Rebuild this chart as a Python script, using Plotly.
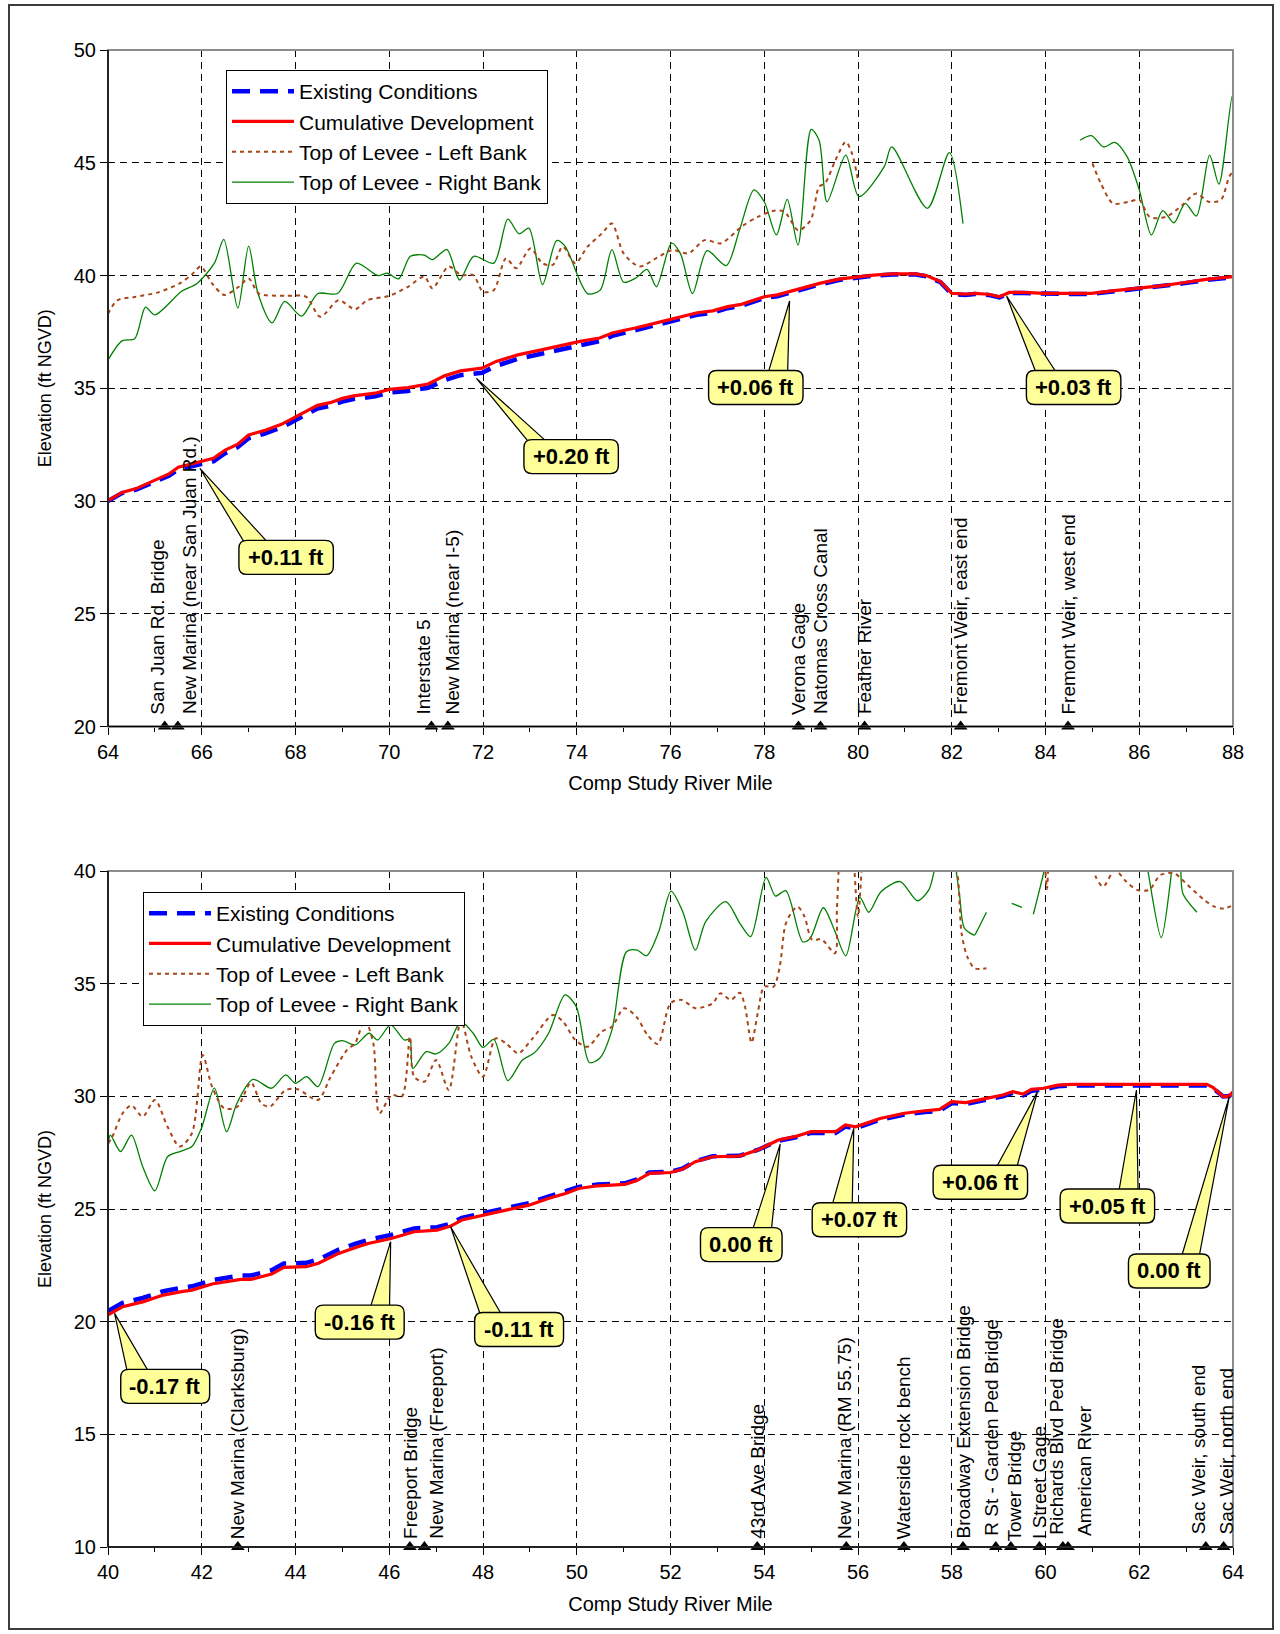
import plotly.graph_objects as go

# ---------------------------------------------------------------- data: top chart (RM 64-88)
TOP_PROFILE_X = [64.0, 64.3, 64.6, 65.0, 65.3, 65.5, 65.8, 66.25, 66.5, 66.76, 67.0, 67.33, 67.7, 68.0,
                 68.25, 68.47, 68.74, 69.0, 69.24, 69.7, 70.0, 70.4, 70.83, 71.18, 71.52, 71.98, 72.28,
                 72.74, 73.27, 73.65, 74.07, 74.49, 74.76, 75.02, 75.25, 75.96, 76.57, 76.9, 77.22, 77.51,
                 78.0, 78.28, 78.77, 79.18, 79.59, 80.0, 80.33, 80.74, 81.23, 81.47, 81.76, 82.0, 82.29,
                 82.49, 82.78, 83.02, 83.23, 83.51, 84.0, 84.49, 84.98, 85.47, 85.96, 86.45, 86.94, 87.43, 88.0]
TOP_CUMULATIVE = [30.02, 30.38, 30.55, 30.9, 31.2, 31.5, 31.67, 31.89, 32.26, 32.51, 32.93, 33.12, 33.4, 33.74,
                  34.0, 34.24, 34.36, 34.55, 34.66, 34.78, 34.95, 35.03, 35.19, 35.55, 35.77, 35.89, 36.19,
                  36.48, 36.71, 36.88, 37.08, 37.23, 37.45, 37.57, 37.67, 38.03, 38.35, 38.43, 38.62, 38.72,
                  39.06, 39.14, 39.43, 39.65, 39.84, 39.95, 40.02, 40.07, 40.07, 39.99, 39.73, 39.21, 39.17,
                  39.21, 39.17, 39.06, 39.25, 39.25, 39.21, 39.21, 39.21, 39.33, 39.43, 39.54, 39.68, 39.83, 39.95]
TOP_EXISTING = [30.0, 30.35, 30.5, 30.85, 31.12, 31.4, 31.56, 31.76, 32.12, 32.38, 32.78, 32.98, 33.26, 33.6,
                33.86, 34.1, 34.22, 34.41, 34.52, 34.64, 34.81, 34.88, 35.02, 35.36, 35.58, 35.69, 35.99,
                36.3, 36.54, 36.72, 36.93, 37.09, 37.32, 37.45, 37.56, 37.93, 38.26, 38.35, 38.55, 38.65,
                39.0, 39.08, 39.37, 39.6, 39.8, 39.92, 39.99, 40.04, 40.04, 39.96, 39.7, 39.18, 39.14,
                39.18, 39.14, 39.03, 39.22, 39.22, 39.18, 39.18, 39.18, 39.3, 39.4, 39.51, 39.65, 39.8, 39.92]

TOP_RIGHT_X = [64.0, 64.3, 64.57, 64.8, 65.0, 65.57, 65.9, 66.27, 66.47, 66.77, 67.0, 67.2, 67.5, 67.77,
               68.13, 68.48, 68.9, 69.3, 69.75, 69.96, 70.2, 70.45, 70.75, 70.92, 71.23, 71.5, 71.8, 72.23,
               72.53, 72.77, 72.98, 73.27, 73.57, 73.75, 74.23, 74.5, 74.75, 75.0, 75.27, 75.5, 75.7, 76.02,
               76.21, 76.47, 76.78, 77.19, 77.47, 77.78, 78.0, 78.26, 78.49, 78.72, 79.0, 79.17, 79.34,
               79.74, 80.02, 80.56, 80.72, 81.48, 81.95, 82.24, None,
               84.74, 84.98, 85.24, 85.48, 85.74, 86.0, 86.26, 86.5, 86.74, 86.98, 87.22, 87.5, 87.7, 87.99, 88.1]
TOP_RIGHT_Y = [36.25, 37.1, 37.2, 38.6, 38.25, 39.3, 39.65, 40.55, 41.6, 38.55, 41.3, 39.2, 37.9, 38.85,
               38.2, 39.2, 39.2, 40.55, 40.0, 40.1, 39.85, 40.85, 40.9, 40.7, 41.15, 39.8, 40.85, 40.55,
               42.5, 41.85, 42.1, 39.6, 41.55, 41.3, 39.2, 39.35, 41.15, 39.7, 39.9, 40.27, 39.5, 41.43,
               40.98, 39.2, 41.1, 40.44, 42.0, 43.8, 43.27, 41.8, 43.38, 41.35, 46.48, 46.0, 43.27,
               45.34, 43.5, 44.83, 45.7, 42.98, 45.45, 42.3, None,
               46.0, 46.2, 45.7, 45.9, 45.27, 43.8, 41.8, 42.88, 42.34, 43.2, 42.64, 45.34, 44.05, 48.0, 46.0]

TOP_LEFT_X = [64.0, 64.2, 64.57, 65.05, 65.53, 65.8, 65.98, 66.22, 66.48, 66.79, 67.0, 67.22, 67.79, 68.22,
              68.53, 68.92, 69.27, 69.53, 70.0, 70.4, 70.75, 70.92, 71.27, 71.53, 71.79, 72.0, 72.23, 72.49,
              72.71, 73.01, 73.27, 73.49, 73.7, 73.97, 74.23, 74.54, 74.75, 75.0, 75.34, 75.69, 76.04,
              76.38, 76.73, 77.08, 77.52, 77.86, 78.21, 78.43, 78.73, 78.99, 79.17, 79.3, 79.52, 79.74,
              79.87, 80.0, None,
              85.0, 85.18, 85.44, 85.78, 86.0, 86.22, 86.57, 86.92, 87.22, 87.48, 87.74, 87.92, 88.05]
TOP_LEFT_Y = [38.3, 38.9, 39.05, 39.24, 39.65, 40.07, 40.4, 39.65, 39.14, 39.5, 39.87, 39.2, 39.1, 39.06,
              38.17, 38.9, 38.5, 38.9, 39.1, 39.5, 39.95, 39.43, 40.4, 40.02, 40.02, 39.28, 39.35, 40.76,
              40.32, 41.2, 40.54, 40.47, 41.28, 40.54, 41.28, 41.87, 42.31, 40.98, 40.4, 40.76, 41.13,
              40.98, 41.57, 41.43, 42.17, 42.6, 42.87, 42.83, 42.0, 42.46, 43.94, 44.1, 45.12, 45.93,
              45.42, 44.24, None,
              44.97, 44.09, 43.2, 43.27, 43.35, 42.6, 42.6, 43.13, 43.64, 43.27, 43.35, 44.38, 44.75]

TOP_LANDMARK_X = [65.21, 65.49, 70.9, 71.25, 78.73, 79.2, 80.14, 82.19, 84.48]
TOP_LANDMARK_NAMES = ["San Juan Rd. Bridge", "New Marina (near San Juan Rd.)", "Interstate 5",
                      "New Marina (near I-5)", "Verona Gage", "Natomas Cross Canal", "Feather River",
                      "Fremont Weir, east end", "Fremont Weir, west end"]

TOP_CALLOUT_TEXT = ["+0.11 ft", "+0.20 ft", "+0.06 ft", "+0.03 ft"]
TOP_CALLOUT_X = [65.96, 71.86, 78.54, 83.17]
TOP_CALLOUT_Y = [31.45, 35.44, 38.87, 39.09]

# ---------------------------------------------------------------- data: bottom chart (RM 40-64)
BOT_PROFILE_X = [40.0, 40.31, 40.74, 41.18, 41.57, 41.79, 42.22, 42.57, 42.83, 43.05, 43.49, 43.75, 44.23,
                 44.49, 44.92, 45.3, 45.55, 46.04, 46.53, 47.02, 47.31, 47.55, 48.0, 48.49, 48.98, 49.39,
                 49.76, 50.04, 50.45, 51.02, 51.27, 51.55, 52.0, 52.25, 52.53, 52.9, 53.47, 53.86, 54.3,
                 54.65, 55.0, 55.52, 55.73, 55.95, 56.47, 56.99, 57.43, 57.74, 58.0, 58.3, 58.74, 59.09,
                 59.3, 59.52, 59.7, 59.96, 60.26, 60.57, 63.44, 63.57, 63.79, 63.92, 64.0]
BOT_CUMULATIVE = [20.3, 20.66, 20.88, 21.18, 21.33, 21.4, 21.67, 21.77, 21.88, 21.88, 22.11, 22.41, 22.44,
                  22.59, 23.03, 23.3, 23.47, 23.69, 23.99, 24.06, 24.24, 24.51, 24.73, 24.95, 25.17, 25.47,
                  25.69, 25.91, 26.03, 26.09, 26.25, 26.58, 26.62, 26.76, 27.1, 27.32, 27.35, 27.62, 28.06,
                  28.21, 28.43, 28.43, 28.73, 28.65, 29.02, 29.25, 29.36, 29.42, 29.76, 29.72, 29.91, 30.06,
                  30.21, 30.1, 30.31, 30.36, 30.5, 30.53, 30.53, 30.4, 29.99, 30.01, 30.2]
BOT_EXISTING = [20.47, 20.83, 21.05, 21.35, 21.5, 21.57, 21.84, 21.94, 22.05, 22.05, 22.28, 22.58, 22.61,
                22.76, 23.2, 23.47, 23.63, 23.85, 24.14, 24.19, 24.35, 24.61, 24.83, 25.04, 25.26, 25.55,
                25.77, 25.98, 26.09, 26.14, 26.3, 26.62, 26.65, 26.79, 27.12, 27.34, 27.36, 27.62, 28.03,
                28.17, 28.38, 28.37, 28.66, 28.58, 28.96, 29.19, 29.3, 29.36, 29.7, 29.66, 29.85, 30.0,
                30.15, 30.04, 30.25, 30.3, 30.45, 30.48, 30.48, 30.36, 29.99, 30.01, 30.2]

BOT_RIGHT_X = [40.0, 40.05, 40.27, 40.5, 40.74, 41.0, 41.27, 41.53, 41.79, 42.0, 42.27, 42.53, 42.75, 43.09,
               43.49, 43.79, 44.0, 44.24, 44.48, 44.83, 45.0, 45.27, 45.57, 45.75, 46.03, 46.32, 46.44,
               46.5, 46.79, 47.0, 47.27, 47.53, 47.79, 48.0, 48.23, 48.53, 48.84, 49.1, 49.4, 49.75, 49.99,
               50.27, 50.49, 50.75, 51.06, 51.29, 51.49, 51.75, 52.01, 52.26, 52.53, 52.75, 53.18, 53.48,
               53.71, 54.04, 54.24, 54.46, 54.82, 54.98, 55.26, 55.51, 55.74, 56.04, 56.23, 56.49, 56.9,
               57.27, 57.51, 57.65, 57.8, 58.0, 58.08, 58.17, 58.27, 58.49, 58.53, 58.74, None,
               59.28, 59.5, None,
               59.74, 59.99, 60.1, None,
               62.1, 62.17, 62.47, 62.66, 62.7, 62.8, 62.88, 62.93, 63.23, None,
               64.0, 64.1]
BOT_RIGHT_Y = [27.65, 28.28, 27.55, 28.28, 26.88, 25.81, 27.32, 27.55, 27.77, 28.62, 30.36, 28.43, 29.69, 30.75,
               30.36, 30.95, 30.58, 30.87, 30.43, 32.35, 32.47, 32.28, 32.8, 32.5, 33.17, 32.5, 32.53,
               31.24, 31.98, 31.88, 32.35, 33.31, 32.8, 32.17, 32.53, 30.7, 31.61, 31.94, 32.8, 34.5, 33.98,
               31.5, 31.69, 32.94, 36.42, 36.49, 36.24, 37.31, 39.11, 38.2, 36.49, 37.75, 38.64, 37.68,
               37.09, 39.72, 38.89, 39.13, 36.86, 37.01, 38.37, 37.31, 36.23, 38.83, 38.17, 39.08, 39.53,
               38.68, 39.16, 40.19, 41.0, 41.0, 40.19, 38.86, 37.46, 37.16, 37.3, 38.17, None,
               38.56, 38.39, None,
               38.08, 40.19, 41.5, None,
               41.0, 40.19, 37.04, 39.45, 40.19, 41.0, 40.19, 39.0, 38.17, None,
               36.2, 36.64]

BOT_LEFT_X = [40.0, 40.09, 40.31, 40.5, 40.74, 41.0, 41.27, 41.53, 41.79, 42.02, 42.22, 42.48, 42.76, 43.05,
              43.27, 43.45, 43.79, 44.05, 44.48, 44.75, 45.1, 45.27, 45.48, 45.66, 45.79, 46.05, 46.27,
              46.44, 46.53, 46.75, 47.0, 47.27, 47.53, 47.75, 48.0, 48.27, 48.49, 48.75, 49.06, 49.49,
              49.71, 49.97, 50.23, 50.53, 50.75, 51.01, 51.27, 51.51, 51.73, 52.0, 52.24, 52.53, 52.9,
              53.06, 53.29, 53.48, 53.59, 53.73, 53.86, 54.0, 54.2, 54.33, 54.45, 54.57, 54.71, 54.86,
              55.02, 55.22, 55.51, 55.55, 55.59, 55.65, 55.85, 55.92, 56.0, 56.08, 56.15, None,
              57.75, 57.8, 57.95, 58.08, 58.21, 58.33, 58.49, 58.74, None,
              59.98, 60.0, 60.03, 60.06, 60.1, None,
              61.0, 61.07, 61.23, 61.48, 61.72, 61.96, 62.21, 62.45, 62.74, 63.03, 63.39, 63.6, 63.8, 64.09]
BOT_LEFT_Y = [27.9, 28.2, 29.24, 29.6, 29.1, 29.84, 28.65, 27.77, 28.36, 31.83, 30.43, 29.47, 29.54, 30.61,
              29.69, 29.54, 30.28, 30.31, 29.84, 30.87, 32.06, 32.35, 33.39, 32.35, 29.24, 30.06, 29.99,
              32.65, 30.87, 30.65, 31.61, 30.28, 33.39, 31.76, 30.87, 32.57, 32.35, 31.91, 32.57, 33.61,
              33.31, 32.5, 32.2, 32.87, 33.09, 33.91, 33.54, 32.72, 32.32, 34.13, 34.28, 33.91, 34.13,
              34.57, 34.28, 34.6, 33.98, 32.38, 33.68, 34.87, 34.87, 35.75, 37.6, 38.12, 38.42, 37.97,
              36.94, 36.97, 36.35, 38.27, 40.19, 43.0, 43.0, 40.19, 37.97, 40.19, 43.0, None,
              41.0, 40.04, 40.3, 40.19, 37.23, 36.2, 35.68, 35.68, None,
              41.0, 40.0, 39.2, 40.19, 41.5, None,
              40.5, 39.75, 39.3, 40.04, 39.53, 39.16, 39.16, 39.82, 39.9, 39.38, 38.71, 38.42, 38.34, 38.56]

BOT_LANDMARK_X = [42.77, 46.44, 46.75, 53.85, 55.75, 56.98, 58.24, 58.94, 59.26, 59.87, 60.37, 60.48,
                  63.42, 63.8]
BOT_LANDMARK_NAMES = ["New Marina (Clarksburg)", "Freeport Bridge", "New Marina (Freeport)", "43rd Ave Bridge",
                      "New Marina (RM 55.75)", "Waterside rock bench", "Broadway Extension Bridge",
                      "R St - Garden Ped Bridge", "Tower Bridge", "I Street Gage", "Richards Blvd Ped Bridge",
                      "American River", "Sac Weir, south end", "Sac Weir, north end"]

BOT_CALLOUT_TEXT = ["-0.17 ft", "-0.16 ft", "-0.11 ft", "0.00 ft", "+0.07 ft", "+0.06 ft", "+0.05 ft", "0.00 ft"]
BOT_CALLOUT_X = [40.14, 46.03, 47.31, 54.34, 55.91, 59.83, 61.94, 63.92]
BOT_CALLOUT_Y = [20.37, 23.55, 24.21, 27.88, 28.58, 30.21, 30.28, 29.99]

SERIES_NAMES = ["Existing Conditions", "Cumulative Development", "Top of Levee - Left Bank",
                "Top of Levee - Right Bank"]

# ---------------------------------------------------------------- layout / style settings
W, H = 1280, 1634
FONT = "Arial, Liberation Sans, sans-serif"
PLOT_L, PLOT_R = 108, 1233
TOP_T, TOP_B = 50, 726.5
BOT_T, BOT_B = 871, 1547
YELLOW = "#FFFF99"

# callout box centres (x, y) and wedge-base x positions, in data units
TOP_BOX = [(67.8, 27.5), (73.88, 31.97), (77.82, 35.03), (84.6, 35.03)]
TOP_BASE = [(67.1, 67.7), (73.23, 73.71), (77.99, 78.49), (83.92, 84.44)]
BOT_BOX = [(41.22, 17.13), (45.37, 19.98), (48.77, 19.65), (53.51, 23.42), (56.03, 24.52), (58.61, 26.19),
           (61.32, 25.13), (62.64, 22.25)]
BOT_BASE = [(40.48, 41.05), (45.5, 46.0), (48.05, 48.58), (53.65, 54.12), (55.36, 55.87), (58.78, 59.3),
            (61.51, 61.98), (62.81, 63.22)]

# landmark label nudges (data units) and vertical lift (px)
TOP_NUDGE = {"San Juan Rd. Bridge": -0.15, "New Marina (near San Juan Rd.)": 0.25, "Interstate 5": -0.15,
             "New Marina (near I-5)": 0.1}
BOT_NUDGE = {"New Marina (Freeport)": 0.25, "R St - Garden Ped Bridge": -0.1, "Tower Bridge": 0.07,
             "Richards Blvd Ped Bridge": -0.14, "American River": 0.35, "Sac Weir, south end": -0.16,
             "Sac Weir, north end": 0.07, "New Marina (RM 55.75)": -0.05}
BOT_LIFT = {"Tower Bridge": 3, "American River": 9, "Sac Weir, south end": 11, "Sac Weir, north end": 11,
            "Richards Blvd Ped Bridge": 10, "R St - Garden Ped Bridge": 9}


def px(x):
    return x / W


def py(y):
    return 1 - y / H


fig = go.Figure()


def add_panel(xa, ya, legend, px_, ex, cum, lx, ly, rx, ry, mark_x, mark_y):
    fig.add_trace(go.Scatter(x=rx, y=ry, mode="lines", name=SERIES_NAMES[3], xaxis=xa, yaxis=ya,
                             line=dict(color="#008000", width=1.3, shape="spline", smoothing=0.8),
                             connectgaps=False, legend=legend, legendrank=4))
    fig.add_trace(go.Scatter(x=lx, y=ly, mode="lines", name=SERIES_NAMES[2], xaxis=xa, yaxis=ya,
                             line=dict(color="#A8461A", width=2, dash="4px,4px", shape="spline",
                                       smoothing=0.8),
                             connectgaps=False, legend=legend, legendrank=3))
    fig.add_trace(go.Scatter(x=px_, y=ex, mode="lines", name=SERIES_NAMES[0], xaxis=xa, yaxis=ya,
                             line=dict(color="#0000FF", width=4.5, dash="18px,10px"),
                             legend=legend, legendrank=1))
    fig.add_trace(go.Scatter(x=px_, y=cum, mode="lines", name=SERIES_NAMES[1], xaxis=xa, yaxis=ya,
                             line=dict(color="#FF0000", width=3.2), legend=legend, legendrank=2))
    fig.add_trace(go.Scatter(x=mark_x, y=[mark_y] * len(mark_x), mode="markers", xaxis=xa, yaxis=ya,
                             marker=dict(symbol="triangle-up", size=12, color="black"),
                             cliponaxis=False, showlegend=False, hoverinfo="skip"))


add_panel("x", "y", "legend", TOP_PROFILE_X, TOP_EXISTING, TOP_CUMULATIVE, TOP_LEFT_X, TOP_LEFT_Y,
          TOP_RIGHT_X, TOP_RIGHT_Y, TOP_LANDMARK_X, 20)
add_panel("x2", "y2", "legend2", BOT_PROFILE_X, BOT_EXISTING, BOT_CUMULATIVE, BOT_LEFT_X, BOT_LEFT_Y,
          BOT_RIGHT_X, BOT_RIGHT_Y, BOT_LANDMARK_X, 10)

grid = dict(showgrid=True, gridcolor="black", gridwidth=1, griddash="7px,5px", zeroline=False,
            showline=False, ticks="outside", ticklen=7, tickcolor="black", tickwidth=1,
            tickfont=dict(family=FONT, size=20, color="black"), automargin=False)

xcommon = dict(grid, dtick=2, minor=dict(dtick=1, ticks="outside", ticklen=4, tickcolor="black",
                                          showgrid=False),
               title=dict(text="Comp Study River Mile", font=dict(family=FONT, size=20, color="black"),
                          standoff=14),
               domain=[px(PLOT_L), px(PLOT_R)])
ycommon = dict(grid, dtick=5,
               title=dict(text="Elevation (ft NGVD)", font=dict(family=FONT, size=18, color="black"),
                          standoff=17))

legend_style = dict(bgcolor="white", bordercolor="black", borderwidth=1,
                    font=dict(family=FONT, size=21, color="black"), itemwidth=62,
                    xanchor="left", yanchor="top", tracegroupgap=0)

fig.update_layout(
    width=W, height=H, paper_bgcolor="white", plot_bgcolor="white",
    margin=dict(l=0, r=0, t=0, b=0), showlegend=True,
    font=dict(family=FONT, color="black"),
    xaxis=dict(xcommon, range=[64, 88], tick0=64, anchor="y"),
    yaxis=dict(ycommon, range=[20, 50], domain=[py(TOP_B), py(TOP_T)], anchor="x"),
    xaxis2=dict(xcommon, range=[40, 64], tick0=40, anchor="y2"),
    yaxis2=dict(ycommon, range=[10, 40], domain=[py(BOT_B), py(BOT_T)], anchor="x2"),
    legend=dict(legend_style, x=px(226), y=py(70)),
    legend2=dict(legend_style, x=px(143), y=py(892)),
)

shapes = []
annotations = []

# figure border
shapes.append(dict(type="rect", xref="paper", yref="paper", x0=px(9), x1=px(1273), y0=py(1629), y1=py(5),
                   line=dict(color="#3C3C3C", width=2), layer="above"))
# plot area borders: gray frame, black left/bottom axis lines
for t, b in ((TOP_T, TOP_B), (BOT_T, BOT_B)):
    shapes.append(dict(type="rect", xref="paper", yref="paper", x0=px(PLOT_L), x1=px(PLOT_R), y0=py(b),
                       y1=py(t), line=dict(color="#8C8C8C", width=2), layer="above"))
    shapes.append(dict(type="line", xref="paper", yref="paper", x0=px(PLOT_L), x1=px(PLOT_L), y0=py(b),
                       y1=py(t), line=dict(color="black", width=1.5), layer="above"))
    shapes.append(dict(type="line", xref="paper", yref="paper", x0=px(PLOT_L), x1=px(PLOT_R), y0=py(b),
                       y1=py(b), line=dict(color="black", width=1.5), layer="above"))

BOLD_W = {"+": 584, "-": 333, ".": 278, " ": 278, "f": 333, "t": 333}
CALLOUT_FS = 22


def text_width(s):
    return sum(BOLD_W.get(c, 556) for c in s) * CALLOUT_FS / 1000.0


def rounded(w, h, r=8):
    a, b = w / 2.0, h / 2.0
    return (f"M {-a + r},{-b} L {a - r},{-b} Q {a},{-b} {a},{-b + r} L {a},{b - r} Q {a},{b} {a - r},{b} "
            f"L {-a + r},{b} Q {-a},{b} {-a},{b - r} L {-a},{-b + r} Q {-a},{-b} {-a + r},{-b} Z")


def add_callouts(xr, yr, texts, tx, ty, boxes, bases):
    for s, x0, y0, (bx, by), (b1, b2) in zip(texts, tx, ty, boxes, bases):
        shapes.append(dict(type="path", xref=xr, yref=yr,
                           path=f"M {x0},{y0} L {b1},{by} L {b2},{by} Z",
                           fillcolor=YELLOW, line=dict(color="black", width=1.2), layer="above"))
        w = text_width(s) + 18
        shapes.append(dict(type="path", xref=xr, yref=yr, xsizemode="pixel", ysizemode="pixel",
                           xanchor=bx, yanchor=by, path=rounded(w, 34),
                           fillcolor=YELLOW, line=dict(color="black", width=1.4), layer="above"))
        annotations.append(dict(xref=xr, yref=yr, x=bx, y=by, text=f"<b>{s}</b>", showarrow=False,
                                font=dict(family=FONT, size=CALLOUT_FS, color="black"),
                                xanchor="center", yanchor="middle"))


add_callouts("x", "y", TOP_CALLOUT_TEXT, TOP_CALLOUT_X, TOP_CALLOUT_Y, TOP_BOX, TOP_BASE)
add_callouts("x2", "y2", BOT_CALLOUT_TEXT, BOT_CALLOUT_X, BOT_CALLOUT_Y, BOT_BOX, BOT_BASE)


def add_landmarks(xr, yr, names, xs, ybase, nudge, lift, default_lift):
    for n, x in zip(names, xs):
        annotations.append(dict(xref=xr, yref=yr, x=x + nudge.get(n, 0.0), y=ybase, text=n,
                                showarrow=False, textangle=-90, xanchor="center", yanchor="bottom",
                                yshift=lift.get(n, default_lift),
                                font=dict(family=FONT, size=19, color="black")))


add_landmarks("x", "y", TOP_LANDMARK_NAMES, TOP_LANDMARK_X, 20, TOP_NUDGE, {}, 10)
add_landmarks("x2", "y2", BOT_LANDMARK_NAMES, BOT_LANDMARK_X, 10, BOT_NUDGE, BOT_LIFT, 6)

fig.update_layout(shapes=shapes, annotations=annotations)
fig.write_html("out.html", config={"displayModeBar": False},
               post_script="document.body.style.margin='0px';")
